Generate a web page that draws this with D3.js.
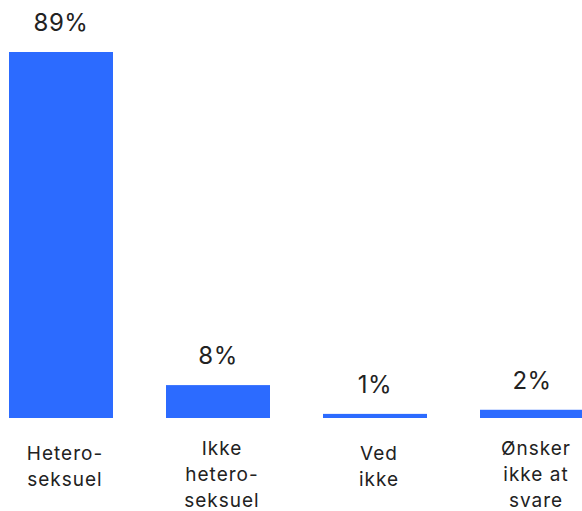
<!DOCTYPE html>
<html lang="da">
<head>
    <meta charset="UTF-8">
    <title>Seksuel orientering</title>
    <script src="https://d3js.org/d3.v7.min.js"></script>
    <style>
        body { margin: 0; background: #fff; }
        svg { display: block; font-family: Inter, "Noto Sans", sans-serif; }
        .bar { fill: #2c6bff; }
        .value-label { font-size: 24px; fill: #222; text-anchor: middle; letter-spacing: 0.5px; }
        .cat-label { font-size: 19px; fill: #222; text-anchor: middle; letter-spacing: 1px; }
    </style>
</head>
<body>
    <div id="chart"></div>

    <script>
        const categories = [
            ["Hetero-", "seksuel"],
            ["Ikke", "hetero-", "seksuel"],
            ["Ved", "ikke"],
            ["Ønsker", "ikke at", "svare"]
        ];
        const values = [89, 8, 1, 2];
        const valueLabels = ["89%", "8%", "1%", "2%"];

        const width = 582, height = 511;
        const baseY = 418;

        const svg = d3.select("#chart").append("svg")
            .attr("width", width)
            .attr("height", height);

        const xScale = d3.scaleBand()
            .domain(d3.range(values.length))
            .range([9, 584])
            .paddingInner(0.3376)
            .paddingOuter(0);

        const yScale = d3.scaleLinear()
            .domain([0, 89])
            .range([baseY, 52]);

        // bars
        svg.selectAll(".bar")
            .data(values)
            .enter().append("rect")
            .attr("class", "bar")
            .attr("x", (d, i) => xScale(i))
            .attr("y", d => yScale(d))
            .attr("width", xScale.bandwidth())
            .attr("height", d => baseY - yScale(d));

        // percent labels above bars
        svg.selectAll(".value-label")
            .data(values)
            .enter().append("text")
            .attr("class", "value-label")
            .attr("x", (d, i) => xScale(i) + xScale.bandwidth() / 2)
            .attr("y", d => yScale(d) - 21)
            .text((d, i) => valueLabels[i]);

        // category labels, one tspan per line
        const cat = svg.selectAll(".cat-label")
            .data(categories)
            .enter().append("text")
            .attr("class", "cat-label")
            .attr("x", (d, i) => xScale(i) + xScale.bandwidth() / 2 + 4)
            .attr("y", d => d.length === 3 ? 455 : 460);

        cat.each(function(lines) {
            const t = d3.select(this);
            const x = t.attr("x");
            lines.forEach((line, j) => {
                t.append("tspan")
                    .attr("x", x)
                    .attr("dy", j === 0 ? 0 : 26)
                    .text(line);
            });
        });
    </script>
</body>
</html>
